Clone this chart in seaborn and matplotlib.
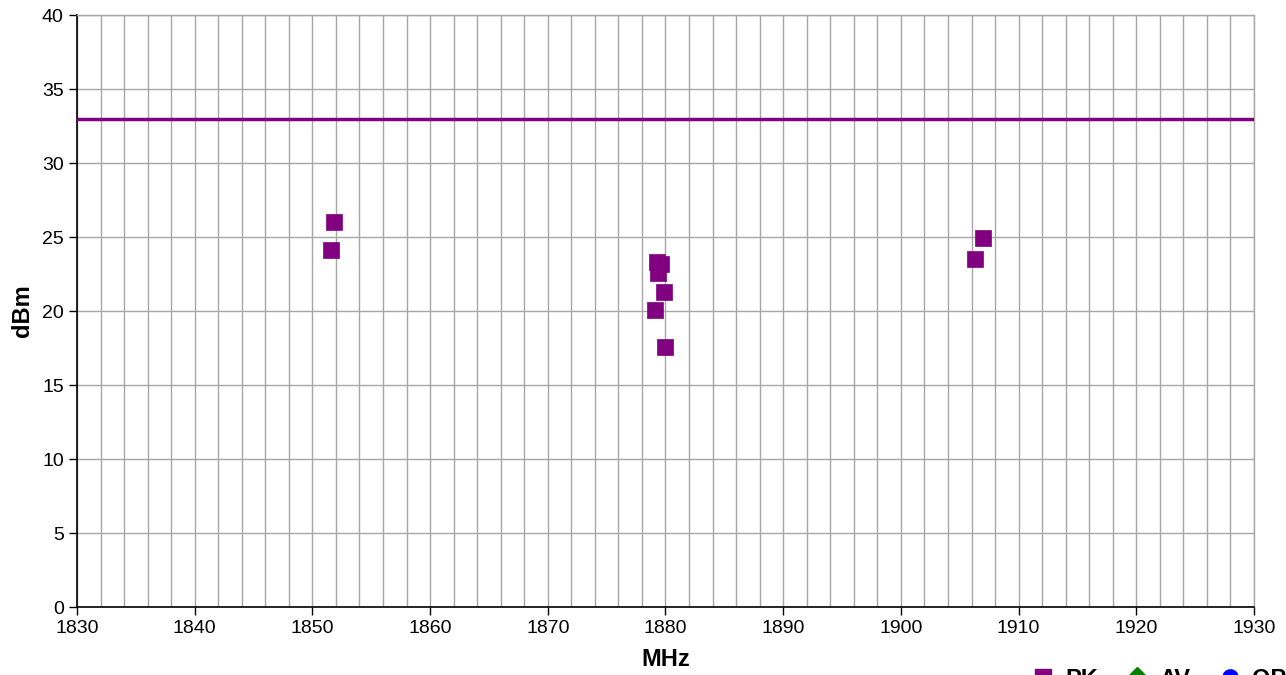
import matplotlib
matplotlib.use("Agg")
import matplotlib.pyplot as plt
from matplotlib.lines import Line2D
import seaborn as sns
import pandas as pd
import numpy as np

# Data
pk_freq = [1851.8, 1851.6, 1879.3, 1879.6, 1879.4, 1879.9, 1879.1, 1880.0, 1907.0, 1906.3]
pk_level = [26.0, 24.1, 23.3, 23.2, 22.6, 21.3, 20.1, 17.6, 24.9, 23.5]
limit_freq = [1830, 1930]
limit_level = [33, 33]
x_ticks = [1830, 1840, 1850, 1860, 1870, 1880, 1890, 1900, 1910, 1920, 1930]
y_ticks = [0, 5, 10, 15, 20, 25, 30, 35, 40]
legend_labels = ["PK", "AV", "QP"]

sns.set_style("white")
plt.rcParams['font.family'] = ['Liberation Sans', 'DejaVu Sans']
plt.rcParams['text.color'] = 'black'
plt.rcParams['axes.labelcolor'] = 'black'
plt.rcParams['xtick.color'] = 'black'
plt.rcParams['ytick.color'] = 'black'

fig = plt.figure(figsize=(12.86, 6.75), dpi=100)
ax = fig.add_axes([77/1286, 1-607/675, (1254-77)/1286, (607-15)/675])

purple = "#800080"

df_pk = pd.DataFrame({"MHz": pk_freq, "dBm": pk_level})
df_lim = pd.DataFrame({"MHz": limit_freq, "dBm": limit_level})

sns.lineplot(data=df_lim, x="MHz", y="dBm", ax=ax, color=purple, linewidth=2.5, zorder=3)
sns.scatterplot(data=df_pk, x="MHz", y="dBm", ax=ax, marker="s", s=120, color=purple,
                edgecolor=purple, linewidth=0.5, zorder=4)

ax.set_xlim(1830, 1930)
ax.set_ylim(0, 40)
ax.set_xticks(x_ticks)
ax.set_yticks(y_ticks)
ax.set_xticks(np.arange(1830, 1931, 2), minor=True)
ax.grid(True, which="both", axis="x", color="#a6a6a6", linewidth=1)
ax.grid(True, which="major", axis="y", color="#a6a6a6", linewidth=1)
ax.tick_params(axis="both", which="major", direction="out", length=6, width=1,
               color="black", labelcolor="black", labelsize=14, bottom=True, left=True)
ax.tick_params(axis="x", which="minor", length=0)

for s in ["left", "bottom"]:
    ax.spines[s].set_color("black")
    ax.spines[s].set_linewidth(1.2)
for s in ["top", "right"]:
    ax.spines[s].set_color("#a6a6a6")
    ax.spines[s].set_linewidth(1)

ax.set_xlabel("MHz", fontsize=17, fontweight="bold", labelpad=8, color="black")
ax.set_ylabel("dBm", fontsize=17, fontweight="bold", labelpad=6, color="black")

handles = [
    Line2D([], [], marker="s", color=purple, linestyle="none", markersize=11),
    Line2D([], [], marker="D", color="green", linestyle="none", markersize=10),
    Line2D([], [], marker="o", color="blue", linestyle="none", markersize=11),
]
fig.legend(handles, legend_labels, loc="center left", bbox_to_anchor=(1010/1286, -0.006),
           ncol=3, frameon=False, prop={"weight": "bold", "size": 17},
           handletextpad=0.45, columnspacing=1.15, handlelength=1.0)

fig.savefig("out.png", dpi=100)
